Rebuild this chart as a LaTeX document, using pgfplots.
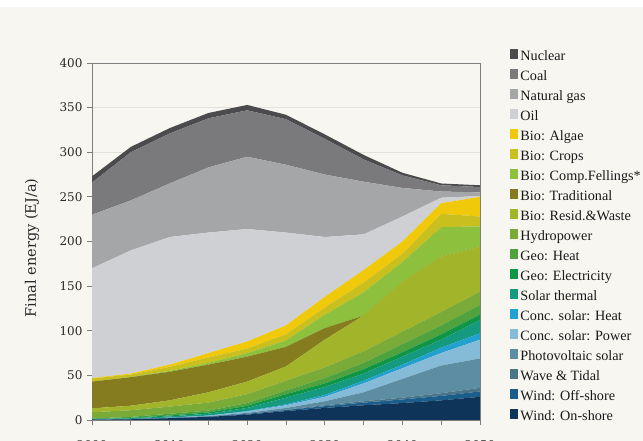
\documentclass[border=0pt]{standalone}
\usepackage{pgfplots}
\pgfplotsset{compat=1.18}
\usepackage{fontspec}
\setmainfont{DejaVu Serif}
\newfontfamily\legendfont{Liberation Serif}
\definecolor{bgcream}{HTML}{F8F6F1}
\definecolor{axgray}{HTML}{7E7E7E}
\definecolor{gridc}{HTML}{E4E2DC}
\definecolor{cNuc}{HTML}{4B4B4D}
\definecolor{cCoal}{HTML}{7A7A7C}
\definecolor{cGas}{HTML}{A5A6A8}
\definecolor{cOil}{HTML}{CED0D4}
\definecolor{cAlgae}{HTML}{F0C90A}
\definecolor{cCrops}{HTML}{C9BF1E}
\definecolor{cFell}{HTML}{8DC03C}
\definecolor{cTrad}{HTML}{857C1F}
\definecolor{cResid}{HTML}{A2B42A}
\definecolor{cHydro}{HTML}{7AAA38}
\definecolor{cGeoH}{HTML}{4FA23E}
\definecolor{cGeoE}{HTML}{0E9545}
\definecolor{cST}{HTML}{159A80}
\definecolor{cCSH}{HTML}{22A0CF}
\definecolor{cCSP}{HTML}{86BBD8}
\definecolor{cPV}{HTML}{5C8DA2}
\definecolor{cWave}{HTML}{4A7488}
\definecolor{cOff}{HTML}{1B5E8C}
\definecolor{cOn}{HTML}{0E3559}
\begin{document}
\begin{tikzpicture}
\useasboundingbox (0,0) rectangle (643pt,441pt);
\clip (0,0) rectangle (643pt,441pt);
\fill[bgcream] (0,0) rectangle (643pt,441pt);
\fill[white] (0,434pt) rectangle (643pt,441pt);
\begin{axis}[
  at={(92pt,21pt)}, anchor=south west,
  scale only axis, width=388pt, height=357pt,
  xmin=2000, xmax=2050, ymin=0, ymax=400,
  stack plots=y, no markers,
  axis line style={axgray, line width=0.8pt},
  xtick={2000,2005,...,2050},
  xticklabels={2000,,2010,,2020,,2030,,2040,,2050},
  ytick={0,50,...,400},
  xtick pos=bottom, ytick pos=left,
  tick align=outside, major tick length=5pt,
  every tick/.style={axgray, line width=0.8pt},
  ymajorgrids, grid style={gridc, line width=0.8pt},
  /pgf/number format/assume math mode=true,
  /pgf/number format/1000 sep={},
  tick label style={font=\fontsize{12}{14}\selectfont, text=black!85},
  yticklabel style={xshift=-1pt},
  xticklabel style={yshift=-12.5pt},
  ylabel={Final energy (EJ/a)},
  every axis y label/.style={at={(axis description cs:-0.1546,0.482)}, rotate=90, anchor=center, font=\fontsize{14.5}{16}\selectfont, text=black!85},
  reverse legend,
  legend cell align=left,
  legend image code/.code={\fill[#1] (0pt,-2pt) rectangle (8pt,8pt);},
  legend style={at={(1.0773,1.039)}, anchor=north west, draw=none, fill=none, inner sep=0pt, outer sep=0pt,
    font=\legendfont\fontsize{14.2}{16}\selectfont, text=black!90,
    nodes={inner sep=0pt, text height=10pt, text depth=3pt},
    row sep=5.5pt,
    /tikz/every odd column/.append style={column sep=2.5pt}},
]
\addplot[fill=cOn, draw=none] coordinates {(2000,0.3) (2005,0.8) (2010,2) (2015,3.5) (2020,6) (2025,10) (2030,13.5) (2035,16.5) (2040,19) (2045,22) (2050,26)} \closedcycle;
\addlegendentry{Wind: On-shore}
\addplot[fill=cOff, draw=none] coordinates {(2000,0) (2005,0) (2010,0.2) (2015,0.3) (2020,0.8) (2025,1.2) (2030,2) (2035,3) (2040,4) (2045,5) (2050,6)} \closedcycle;
\addlegendentry{Wind: Off-shore}
\addplot[fill=cWave, draw=none] coordinates {(2000,0) (2005,0) (2010,0) (2015,0) (2020,0.2) (2025,0.5) (2030,1) (2035,1.5) (2040,2) (2045,3) (2050,4)} \closedcycle;
\addlegendentry{Wave \& Tidal}
\addplot[fill=cPV, draw=none] coordinates {(2000,0) (2005,0.1) (2010,0.2) (2015,0.4) (2020,1) (2025,1.8) (2030,4.5) (2035,10) (2040,21) (2045,31) (2050,33)} \closedcycle;
\addlegendentry{Photovoltaic solar}
\addplot[fill=cCSP, draw=none] coordinates {(2000,0) (2005,0.1) (2010,0.2) (2015,0.6) (2020,1.5) (2025,3) (2030,5) (2035,10) (2040,12) (2045,14) (2050,21)} \closedcycle;
\addlegendentry{Conc. solar: Power}
\addplot[fill=cCSH, draw=none] coordinates {(2000,0) (2005,0) (2010,0.1) (2015,0.2) (2020,0.5) (2025,1) (2030,2) (2035,3) (2040,4) (2045,6) (2050,7)} \closedcycle;
\addlegendentry{Conc. solar: Heat}
\addplot[fill=cST, draw=none] coordinates {(2000,0.7) (2005,1) (2010,1.3) (2015,2) (2020,3.5) (2025,7.5) (2030,9) (2035,8) (2040,9) (2045,9) (2050,15)} \closedcycle;
\addlegendentry{Solar thermal}
\addplot[fill=cGeoE, draw=none] coordinates {(2000,0.2) (2005,0.5) (2010,1) (2015,1.5) (2020,2.5) (2025,4) (2030,4) (2035,5) (2040,5) (2045,6) (2050,6)} \closedcycle;
\addlegendentry{Geo: Electricity}
\addplot[fill=cGeoH, draw=none] coordinates {(2000,0.5) (2005,1) (2010,2) (2015,2) (2020,3) (2025,4) (2030,6) (2035,7) (2040,9) (2045,10) (2050,11)} \closedcycle;
\addlegendentry{Geo: Heat}
\addplot[fill=cHydro, draw=none] coordinates {(2000,7) (2005,7.5) (2010,8) (2015,9) (2020,10) (2025,11) (2030,12) (2035,13) (2040,14) (2045,15) (2050,15)} \closedcycle;
\addlegendentry{Hydropower}
\addplot[fill=cResid, draw=none] coordinates {(2000,4.3) (2005,5) (2010,7) (2015,11.5) (2020,14) (2025,16) (2030,31) (2035,40) (2040,56) (2045,62) (2050,50)} \closedcycle;
\addlegendentry{Bio: Resid.\&Waste}
\addplot[fill=cTrad, draw=none] coordinates {(2000,30) (2005,32) (2010,32) (2015,31) (2020,28) (2025,22) (2030,13) (2035,0) (2040,0) (2045,0) (2050,0)} \closedcycle;
\addlegendentry{Bio: Traditional}
\addplot[fill=cFell, draw=none] coordinates {(2000,0) (2005,0.3) (2010,1) (2015,2) (2020,4) (2025,7) (2030,15) (2035,26) (2040,22) (2045,33) (2050,23)} \closedcycle;
\addlegendentry{Bio: Comp.Fellings*}
\addplot[fill=cCrops, draw=none] coordinates {(2000,3.5) (2005,2.7) (2010,4.5) (2015,6) (2020,5) (2025,7) (2030,8) (2035,11) (2040,9) (2045,15) (2050,11)} \closedcycle;
\addlegendentry{Bio: Crops}
\addplot[fill=cAlgae, draw=none] coordinates {(2000,0.5) (2005,1) (2010,2.5) (2015,5) (2020,8) (2025,10) (2030,12) (2035,14) (2040,14) (2045,12) (2050,22)} \closedcycle;
\addlegendentry{Bio: Algae}
\addplot[fill=cOil, draw=none] coordinates {(2000,123) (2005,138) (2010,143) (2015,135) (2020,126) (2025,104) (2030,67) (2035,40) (2040,28) (2045,6) (2050,1)} \closedcycle;
\addlegendentry{Oil}
\addplot[fill=cGas, draw=none] coordinates {(2000,60) (2005,56) (2010,60) (2015,73) (2020,81) (2025,76) (2030,70) (2035,59) (2040,32) (2045,7) (2050,4)} \closedcycle;
\addlegendentry{Natural gas}
\addplot[fill=cCoal, draw=none] coordinates {(2000,36) (2005,54) (2010,56) (2015,55) (2020,52) (2025,51) (2030,40) (2035,25) (2040,14) (2045,7) (2050,6)} \closedcycle;
\addlegendentry{Coal}
\addplot[fill=cNuc, draw=none] coordinates {(2000,7) (2005,6) (2010,6) (2015,6) (2020,6) (2025,5) (2030,5) (2035,5) (2040,3) (2045,2) (2050,2)} \closedcycle;
\addlegendentry{Nuclear}
\end{axis}
\end{tikzpicture}
\end{document}
